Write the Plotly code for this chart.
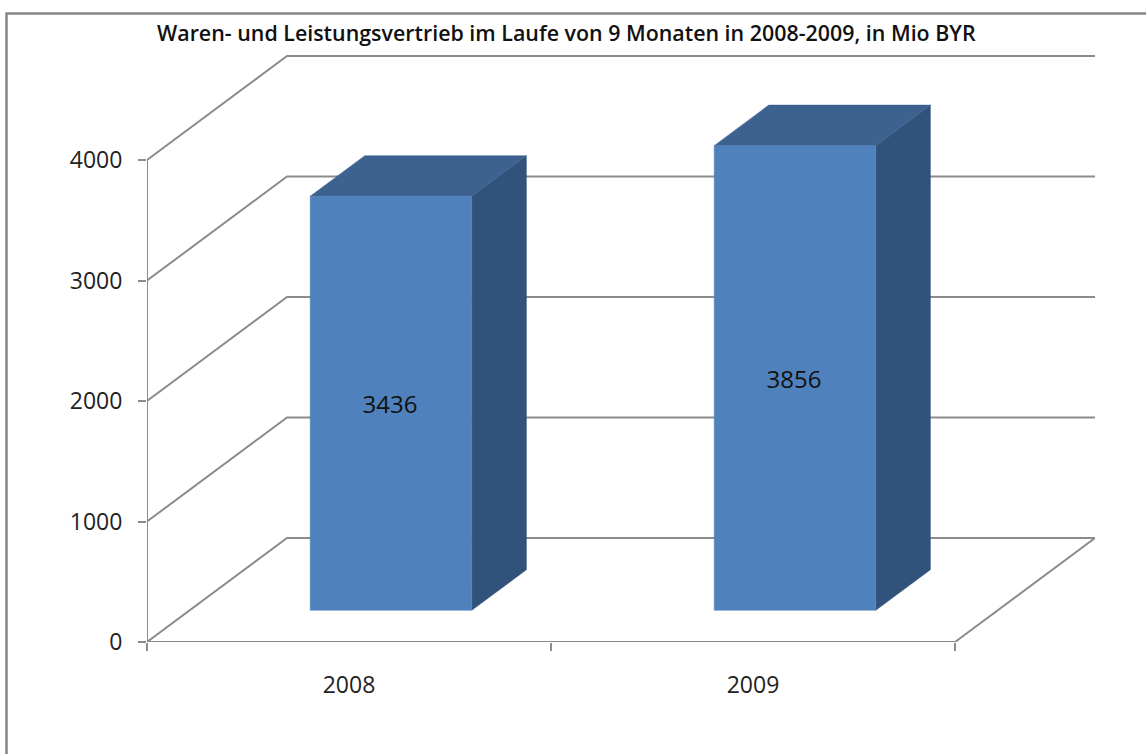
import plotly.graph_objects as go

categories = ["2008", "2009"]
values = [3436, 3856]
y_ticks = [0, 1000, 2000, 3000, 4000]
title = "Waren- und Leistungsvertrieb im Laufe von 9 Monaten in 2008-2009, in Mio BYR"

W, H = 1146, 754
L, R, T, B = 147, 1095, 55, 642          # plot box in pixels
X_PX = 404.0                              # pixels per category
Y_PX = 0.1205                             # pixels per value unit
DX = 140 / X_PX                           # wall depth, x units
DY = 104 / Y_PX                           # wall depth, value units
FRONT, BACK = 0.30, 0.69                  # bar depth within the floor
BAR_W = 0.4
x_range = [0, (R - L) / X_PX]
y_range = [0, (B - T) / Y_PX]

GREY = "#8c8c8c"
FONT = "Open Sans"
C_FRONT, C_TOP, C_SIDE = "#4f81bd", "#3e628f", "#31527b"


def face(xs, ys, color):
    return go.Scatter(x=xs, y=ys, mode="lines", fill="toself", fillcolor=color,
                      line=dict(width=0.5, color=color), hoverinfo="skip",
                      showlegend=False, cliponaxis=False)


def line(xs, ys):
    return go.Scatter(x=xs, y=ys, mode="lines", line=dict(color=GREY, width=2),
                      hoverinfo="skip", showlegend=False, cliponaxis=False)


fig = go.Figure()

# walls and floor
for v in y_ticks:
    fig.add_trace(line([0, DX, 2 + DX], [v, v + DY, v + DY]))
fig.add_trace(line([DX + 2, 2, 0], [DY, 0, 0]))
fig.add_trace(line([0, 0], [0, max(y_ticks)]))

# bars
label_x, label_y = [], []
for i, v in enumerate(values):
    x0 = i + 0.5 - BAR_W / 2 + FRONT * DX
    x1 = i + 0.5 + BAR_W / 2 + FRONT * DX
    y0 = (FRONT + 0.005) * DY
    y1 = y0 + v
    ddx = (BACK - FRONT) * DX
    ddy = (BACK - FRONT) * DY
    fig.add_trace(face([x1, x1 + ddx, x1 + ddx, x1, x1],
                       [y0, y0 + ddy, y1 + ddy, y1, y0], C_SIDE))
    fig.add_trace(face([x0, x0 + ddx, x1 + ddx, x1, x0],
                       [y1, y1 + ddy, y1 + ddy, y1, y1], C_TOP))
    fig.add_trace(face([x0, x1, x1, x0, x0], [y0, y0, y1, y1, y0], C_FRONT))
    label_x.append((x0 + x1) / 2 - 1 / X_PX)
    label_y.append((y0 + y1) / 2 - 4 / Y_PX)

fig.add_trace(go.Scatter(x=label_x, y=label_y, mode="text",
                         text=[str(v) for v in values], textposition="middle center",
                         textfont=dict(family=FONT, size=24, color="#111111"),
                         hoverinfo="skip", showlegend=False, cliponaxis=False,
                         xaxis="x2", yaxis="y2"))

# outer frame: only left and top edges fall inside the picture
px = lambda p: (p - L) / (R - L)
py = lambda p: (B - p) / (B - T)
fig.add_shape(type="path", xref="paper", yref="paper", layer="below",
              path=f"M {px(6.5)} {py(H + 5)} L {px(6.5)} {py(13.5)} L {px(W + 5)} {py(13.5)}",
              line=dict(color="#858585", width=2.5))

fig.add_annotation(text=title, xref="paper", yref="paper", x=px(566), y=py(32),
                   xanchor="center", yanchor="middle", showarrow=False,
                   font=dict(family=FONT, size=21.4, color="#111111", weight=600))

common = dict(showgrid=False, zeroline=False, showline=False)
fig.update_layout(
    width=W, height=H, autosize=False,
    margin=dict(l=L, r=W - R, t=T, b=H - B, pad=0),
    paper_bgcolor="white", plot_bgcolor="rgba(0,0,0,0)",
    showlegend=False,
    xaxis=dict(range=x_range, tickmode="array", tickvals=[0, 1, 2], ticktext=["", "", ""],
               ticks="outside", ticklen=8, tickwidth=2, tickcolor=GREY, **common),
    yaxis=dict(range=y_range, tickmode="array", tickvals=y_ticks,
               ticktext=[""] * len(y_ticks),
               ticks="outside", ticklen=8, tickwidth=2, tickcolor=GREY, **common),
    xaxis2=dict(range=x_range, overlaying="x", anchor="y2", tickmode="array",
                tickvals=[0.5, 1.5], ticktext=categories, ticks="outside", ticklen=22,
                tickcolor="rgba(0,0,0,0)", tickfont=dict(family=FONT, size=23, color="#222222"),
                **common),
    yaxis2=dict(range=y_range, overlaying="y", anchor="x2", tickmode="array",
                tickvals=y_ticks, ticktext=[str(v) for v in y_ticks], ticks="outside",
                ticklen=19, tickcolor="rgba(0,0,0,0)",
                tickfont=dict(family=FONT, size=23, color="#222222"), **common),
)

fig.write_html("out.html", config={"displayModeBar": False},
               post_script="document.body.style.margin='0';document.body.style.overflow='hidden';")
